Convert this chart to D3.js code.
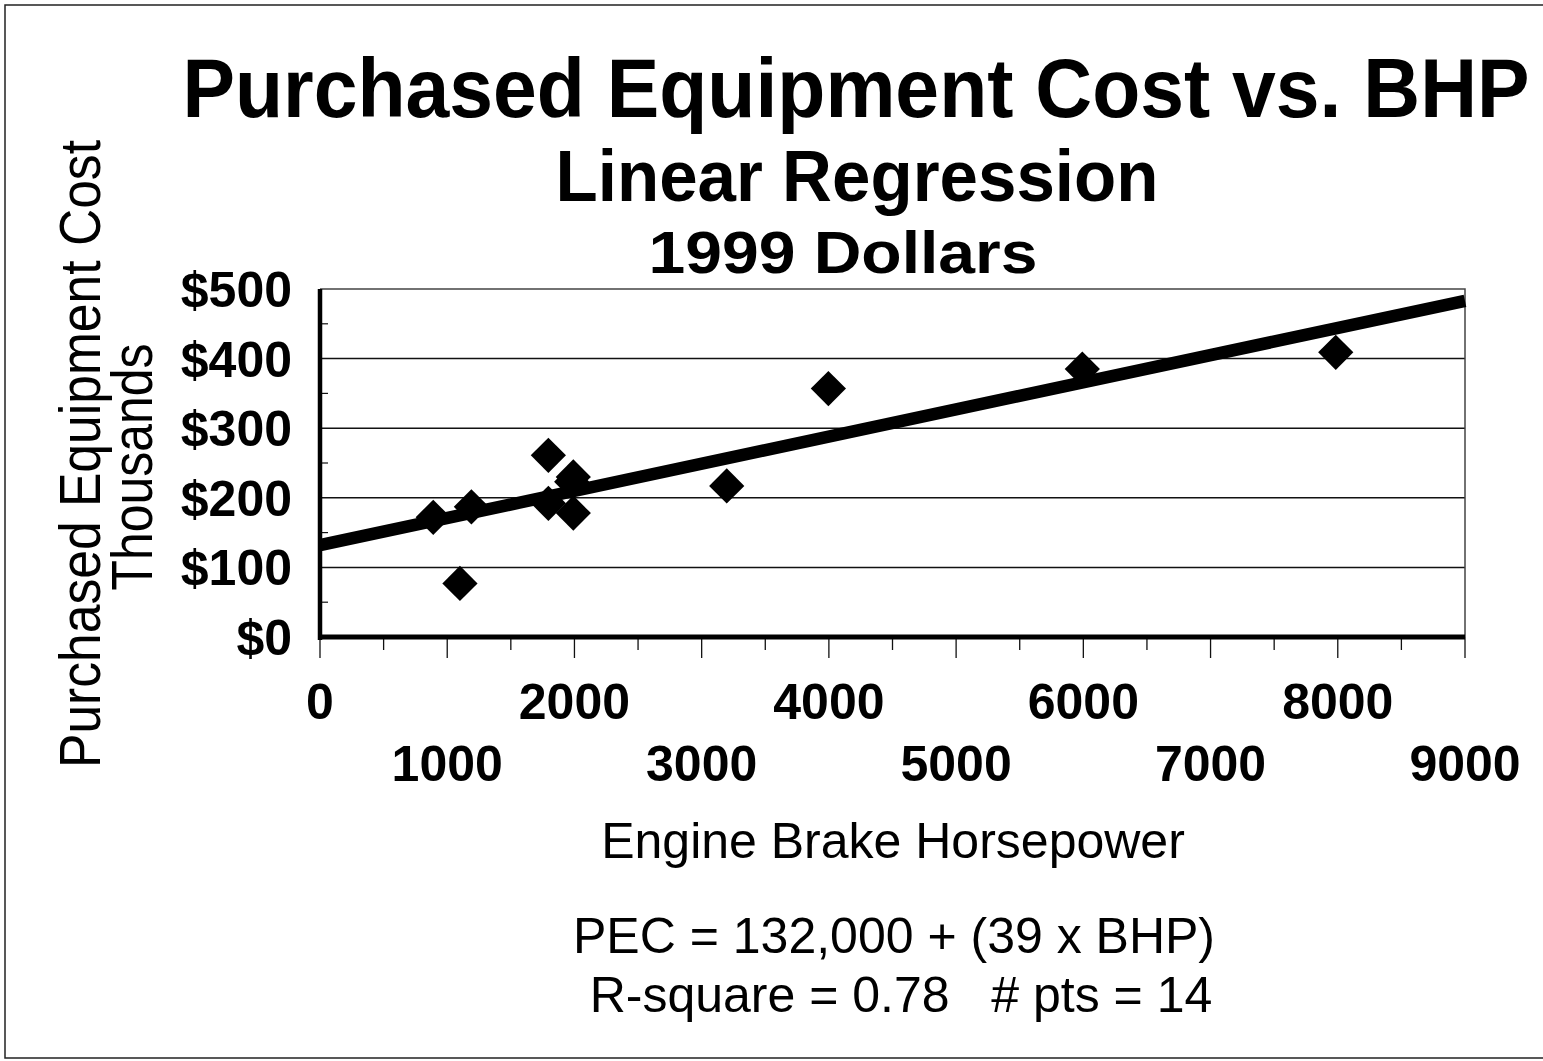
<!DOCTYPE html>
<html>
<head>
<meta charset="utf-8">
<script src="https://cdn.jsdelivr.net/npm/d3@7"></script>
<style>
  html, body { margin: 0; padding: 0; background: #fff; }
  svg { display: block; font-family: "Liberation Sans", Arial, Helvetica, sans-serif; }
</style>
</head>
<body>
<div id="chart"></div>
<script>
// points (BHP, cost in $ thousands)
const bhp  = [890, 1100, 1190, 1795, 1795, 1978, 1991, 1991, 3197, 3996, 5992, 7984];
const cost = [172,   77,  187,  261,  192,  223,  230,  178,  217,  357,  385,  409];

// regression: PEC = 132,000 + 39 x BHP  (in thousands)
const intercept = 132;
const slope = 0.039;

const yTicks = [0, 100, 200, 300, 400, 500];
const xTicks = [0, 1000, 2000, 3000, 4000, 5000, 6000, 7000, 8000, 9000];

const width = 1543, height = 1061;

const svg = d3.select("#chart").append("svg")
    .attr("width", width)
    .attr("height", height);

// outer frame of the slide (right edge runs off the page)
svg.append("path")
    .attr("d", `M${width},5H5V1058H${width}`)
    .attr("fill", "none")
    .attr("stroke", "#222")
    .attr("stroke-width", 1.5);

const x = d3.scaleLinear().domain([0, 9000]).range([320, 1465]);
const y = d3.scaleLinear().domain([0, 500]).range([637, 289]);

// gridlines
svg.append("g")
  .selectAll("line")
  .data(yTicks.filter(d => d > 0 && d < 500))
  .join("line")
    .attr("x1", x(0)).attr("x2", x(9000))
    .attr("y1", d => y(d)).attr("y2", d => y(d))
    .attr("stroke", "#111")
    .attr("stroke-width", 1.5);

// top and right border of the plot area
svg.append("path")
    .attr("d", `M${x(0)},${y(500)}H${x(9000)}V${y(0)}`)
    .attr("fill", "none")
    .attr("stroke", "#444")
    .attr("stroke-width", 1.5);

// minor y ticks inside the plot
svg.append("g")
  .selectAll("line")
  .data(d3.range(50, 500, 100))
  .join("line")
    .attr("x1", x(0)).attr("x2", x(0) + 8)
    .attr("y1", d => y(d)).attr("y2", d => y(d))
    .attr("stroke", "#111")
    .attr("stroke-width", 1.2);

// x ticks every 500 below the axis
svg.append("g")
  .selectAll("line")
  .data(d3.range(0, 9001, 500))
  .join("line")
    .attr("x1", d => x(d)).attr("x2", d => x(d))
    .attr("y1", y(0)).attr("y2", d => y(0) + (d % 1000 === 0 ? 21 : 13))
    .attr("stroke", "#111")
    .attr("stroke-width", 1.3);

// axes lines (thick)
svg.append("line")
    .attr("x1", x(0)).attr("x2", x(0))
    .attr("y1", y(500)).attr("y2", y(0) + 3)
    .attr("stroke", "#000").attr("stroke-width", 4.5);
svg.append("line")
    .attr("x1", x(0) - 2).attr("x2", x(9000))
    .attr("y1", y(0)).attr("y2", y(0))
    .attr("stroke", "#000").attr("stroke-width", 5);

// regression line
svg.append("line")
    .attr("x1", x(0)).attr("y1", y(intercept))
    .attr("x2", x(9000)).attr("y2", y(intercept + slope * 9000))
    .attr("stroke", "#000")
    .attr("stroke-width", 12.5);

// diamonds
const diamond = d3.symbol().type(d3.symbolSquare).size(620);
svg.append("g")
  .selectAll("path")
  .data(bhp.map((b, i) => [b, cost[i]]))
  .join("path")
    .attr("d", diamond)
    .attr("transform", d => `translate(${x(d[0])},${y(d[1])}) rotate(45)`)
    .attr("fill", "#000");

// y tick labels
svg.append("g")
    .attr("font-weight", "bold")
    .attr("font-size", 50)
    .attr("text-anchor", "end")
  .selectAll("text")
  .data(yTicks)
  .join("text")
    .attr("x", 292)
    .attr("y", d => y(d) + 18)
    .text(d => "$" + d);

// x tick labels, staggered on two rows
svg.append("g")
    .attr("font-weight", "bold")
    .attr("font-size", 50)
    .attr("text-anchor", "middle")
  .selectAll("text")
  .data(xTicks)
  .join("text")
    .attr("x", d => x(d))
    .attr("y", d => (d % 2000 === 0 ? 719 : 781))
    .text(d => d);

// titles (the scan's lettering is a bit narrower than Arial, so fit widths)
const titles = [
  { t: "Purchased Equipment Cost vs. BHP", x: 856, y: 117, size: 83, w: 1347 },
  { t: "Linear Regression", x: 857, y: 201, size: 73, w: 603 },
  { t: "1999 Dollars", x: 843, y: 273, size: 60, w: 389 }
];
svg.append("g")
    .attr("font-weight", "bold")
    .attr("text-anchor", "middle")
  .selectAll("text")
  .data(titles)
  .join("text")
    .attr("x", d => d.x)
    .attr("y", d => d.y)
    .attr("font-size", d => d.size)
    .attr("textLength", d => d.w)
    .attr("lengthAdjust", "spacingAndGlyphs")
    .text(d => d.t);

// y axis title
svg.append("text")
    .attr("transform", "translate(100,454) rotate(-90)")
    .attr("text-anchor", "middle")
    .attr("font-size", 58)
    .attr("textLength", 628)
    .attr("lengthAdjust", "spacingAndGlyphs")
    .text("Purchased Equipment Cost");
svg.append("text")
    .attr("transform", "translate(152,467) rotate(-90)")
    .attr("text-anchor", "middle")
    .attr("font-size", 58)
    .attr("textLength", 247)
    .attr("lengthAdjust", "spacingAndGlyphs")
    .text("Thousands");

// x axis title and notes
const notes = [
  { t: "Engine Brake Horsepower", x: 893, y: 858 },
  { t: "PEC = 132,000 + (39 x BHP)", x: 894, y: 953 },
  { t: "R-square = 0.78   # pts = 14", x: 901, y: 1012 }
];
svg.append("g")
    .attr("text-anchor", "middle")
    .attr("font-size", 50)
  .selectAll("text")
  .data(notes)
  .join("text")
    .attr("x", d => d.x)
    .attr("y", d => d.y)
    .attr("xml:space", "preserve")
    .style("white-space", "pre")
    .text(d => d.t);
</script>
</body>
</html>
